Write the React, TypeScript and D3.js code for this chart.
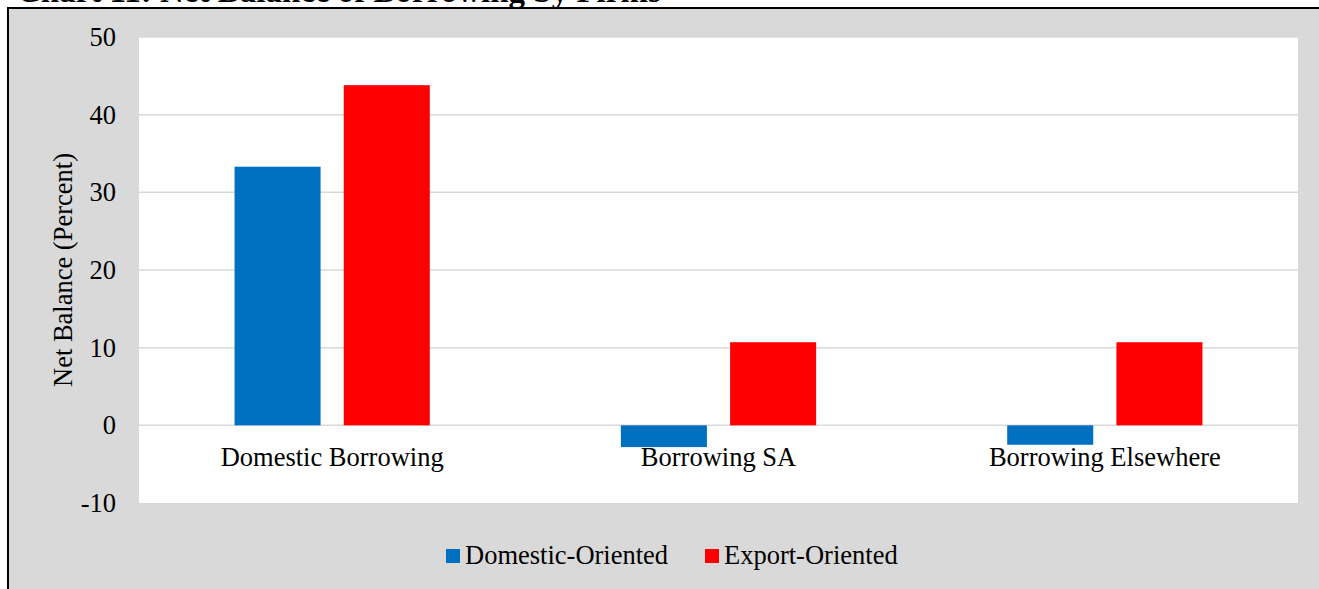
import React from "react";
import * as d3 from "d3";

const categories = ["Domestic Borrowing", "Borrowing SA", "Borrowing Elsewhere"];
const seriesNames = ["Domestic-Oriented", "Export-Oriented"];
const domesticValues = [33.3, -2.8, -2.5];
const exportValues = [43.8, 10.7, 10.7];
const yTicks = [-10, 0, 10, 20, 30, 40, 50];
const colors = ["#0070c0", "#ff0000"];
const titleText = "Chart 11: Net Balance of Borrowing by Firms";

const W = 1319;
const H = 589;
const plot = { left: 139, right: 1298, top: 37, bottom: 503 };
const FONT = "'Liberation Serif', 'Times New Roman', Times, serif";
const FS = 26.5;

export default function App() {
  const x = d3.scaleBand<string>().domain(categories).range([plot.left, plot.right]).padding(0);
  const y = d3.scaleLinear().domain([-10, 50]).range([plot.bottom, plot.top]);
  const band = x.bandwidth();
  const barW = band * 0.2227;
  const gap = band * 0.06;
  const series = [domesticValues, exportValues];

  return (
    <div style={{ position: "absolute", left: 0, top: 0 }}>
      <style>{`body{margin:0}`}</style>
      <svg width={W} height={H} style={{ display: "block" }}>
        <rect x={0} y={0} width={W} height={H} fill="#ffffff" />
        <text x={17} y={2} fontFamily={FONT} fontWeight="bold" fontSize={33} fill="#000">
          {titleText}
        </text>
        <rect x={8} y={8} width={W - 8} height={H - 8} fill="#d9d9d9" />
        <line x1={7} y1={8} x2={W} y2={8} stroke="#000" strokeWidth={2} />
        <line x1={8} y1={7} x2={8} y2={H} stroke="#000" strokeWidth={2} />
        <rect
          x={plot.left}
          y={plot.top}
          width={plot.right - plot.left}
          height={plot.bottom - plot.top}
          fill="#ffffff"
        />
        {yTicks.map((t) => (
          <g key={t}>
            {t !== -10 && (
              <line
                x1={plot.left}
                x2={plot.right}
                y1={y(t)}
                y2={y(t)}
                stroke="#d9d9d9"
                strokeWidth={1.5}
              />
            )}
            <text
              x={116}
              y={y(t) + 9}
              textAnchor="end"
              fontFamily={FONT}
              fontSize={FS}
              fill="#000"
            >
              {t}
            </text>
          </g>
        ))}
        {categories.map((c, i) => {
          const cx = (x(c) as number) + band / 2;
          return (
            <g key={c}>
              {series.map((vals, s) => {
                const v = vals[i];
                const bx = s === 0 ? cx - gap / 2 - barW : cx + gap / 2;
                const y0 = y(Math.max(0, v));
                const y1 = y(Math.min(0, v));
                return (
                  <rect
                    key={s}
                    x={bx}
                    y={y0}
                    width={barW}
                    height={y1 - y0}
                    fill={colors[s]}
                  />
                );
              })}
              <text
                x={cx}
                y={466}
                textAnchor="middle"
                fontFamily={FONT}
                fontSize={FS}
                fill="#000"
              >
                {c}
              </text>
            </g>
          );
        })}
        <text
          transform={`translate(72, ${(plot.top + plot.bottom) / 2}) rotate(-90)`}
          textAnchor="middle"
          fontFamily={FONT}
          fontSize={FS}
          fill="#000"
        >
          Net Balance (Percent)
        </text>
        {seriesNames.map((n, s) => {
          const lx = s === 0 ? 446 : 705;
          return (
            <g key={n}>
              <rect x={lx} y={549} width={14} height={14} fill={colors[s]} />
              <text x={lx + 19} y={564} fontFamily={FONT} fontSize={FS} fill="#000">
                {n}
              </text>
            </g>
          );
        })}
      </svg>
    </div>
  );
}
